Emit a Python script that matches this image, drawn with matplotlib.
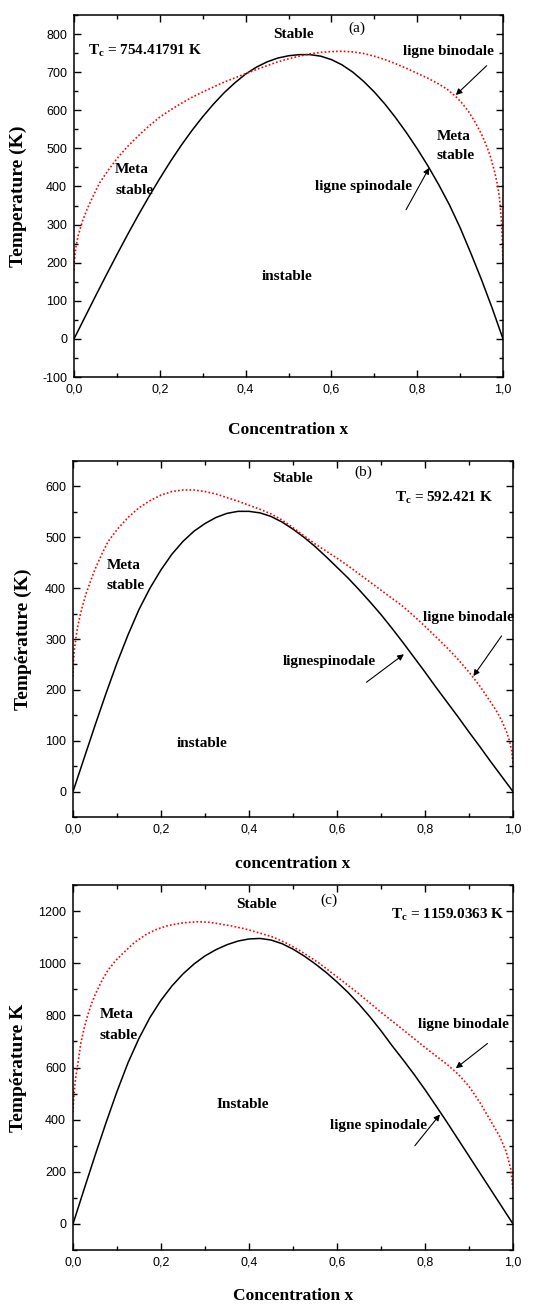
import matplotlib
matplotlib.use("Agg")
import matplotlib.pyplot as plt
from matplotlib.ticker import MultipleLocator, FuncFormatter

# ---- data (x = concentration, T in K) ----
# panel (a)
xa_spin = [0.0, 0.025, 0.05, 0.075, 0.1, 0.125, 0.15, 0.175, 0.2, 0.225, 0.25, 0.275, 0.3,
           0.325, 0.35, 0.375, 0.4, 0.425, 0.45, 0.475, 0.5, 0.525, 0.55, 0.575, 0.6, 0.625,
           0.65, 0.675, 0.7, 0.725, 0.75, 0.775, 0.8, 0.825, 0.85, 0.875, 0.9, 0.925, 0.95,
           0.975, 1.0]
Ta_spin = [0, 56, 112, 167, 221, 274, 325, 374, 421, 466, 508, 547, 583,
           616, 646, 672, 695, 713, 727, 737, 743, 746, 746, 742, 733, 719,
           700, 676, 648, 616, 580, 541, 499, 454, 405, 352, 292, 225, 155,
           80, 0]
xa_bin = [0.0, 0.0005, 0.002, 0.005, 0.01, 0.02, 0.03, 0.045, 0.06, 0.08, 0.1, 0.125,
          0.15, 0.175, 0.2, 0.225, 0.25, 0.275, 0.3, 0.325, 0.35, 0.375, 0.4, 0.425, 0.45,
          0.475, 0.5, 0.525, 0.55, 0.575, 0.6, 0.625, 0.65, 0.675, 0.7, 0.725, 0.75, 0.775,
          0.8, 0.825, 0.85, 0.87, 0.89, 0.905, 0.92, 0.935, 0.95, 0.96, 0.97, 0.98, 0.987,
          0.992, 0.996, 0.998, 0.9995, 1.0]
Ta_bin = [180, 200, 221, 245, 272, 310, 339, 376, 410, 443, 473, 505,
          533, 559, 582, 601, 618, 634, 648, 661, 674, 685, 696, 707, 717,
          727, 735, 742, 748, 752, 754, 755, 753, 749, 742, 733, 722, 710,
          697, 684, 669, 655, 636, 618, 596, 569, 537, 511, 481, 441, 405,
          368, 315, 272, 222, 180]

# panel (b)
xb_spin = [0.0, 0.025, 0.05, 0.075, 0.1, 0.125, 0.15, 0.175, 0.2, 0.225, 0.25, 0.275, 0.3,
           0.325, 0.35, 0.375, 0.4, 0.425, 0.45, 0.475, 0.5, 0.525, 0.55, 0.575, 0.6, 0.625,
           0.65, 0.675, 0.7, 0.725, 0.75, 0.775, 0.8, 0.825, 0.85, 0.875, 0.9, 0.925, 0.95,
           0.975, 1.0]
Tb_spin = [0, 65, 130, 193, 253, 308, 358, 400, 436, 467, 492, 512, 527,
           539, 547, 551, 551, 548, 541, 530, 516, 500, 482, 462, 441, 420,
           397, 373, 348, 321, 293, 264, 235, 205, 176, 147, 117, 88, 58,
           29, 0]
xb_bin = [0.0, 0.001, 0.003, 0.006, 0.01, 0.015, 0.02, 0.03, 0.04, 0.05, 0.065, 0.08, 0.1,
          0.125, 0.15, 0.175, 0.2, 0.225, 0.25, 0.275, 0.3, 0.325, 0.35, 0.375, 0.4, 0.425,
          0.45, 0.475, 0.5, 0.525, 0.55, 0.575, 0.6, 0.625, 0.65, 0.675, 0.7, 0.725, 0.75,
          0.775, 0.8, 0.825, 0.85, 0.875, 0.9, 0.925, 0.95, 0.965, 0.975, 0.985, 0.992,
          0.997, 1.0]
Tb_bin = [226, 256, 278, 299, 321, 342, 360, 390, 414, 437, 466, 492, 515,
          539, 558, 572, 583, 590, 593, 593, 590, 585, 578, 571, 563, 555,
          546, 534, 519, 503, 487, 473, 459, 444, 428, 412, 396, 380, 364,
          345, 325, 304, 283, 260, 235, 207, 175, 155, 138, 118, 100,
          80, 56]

# panel (c)
xc_spin = [0.0, 0.025, 0.05, 0.075, 0.1, 0.125, 0.15, 0.175, 0.2, 0.225, 0.25, 0.275, 0.3,
           0.325, 0.35, 0.375, 0.4, 0.425, 0.45, 0.475, 0.5, 0.525, 0.55, 0.575, 0.6, 0.625,
           0.65, 0.675, 0.7, 0.725, 0.75, 0.775, 0.8, 0.825, 0.85, 0.875, 0.9, 0.925, 0.95,
           0.975, 1.0]
Tc_spin = [0, 132, 262, 388, 508, 618, 712, 792, 858, 913, 959, 997, 1028,
           1052, 1071, 1085, 1093, 1095, 1089, 1075, 1054, 1028, 998, 965, 928, 888,
           843, 794, 741, 684, 630, 574, 515, 453, 390, 325, 260, 195, 130,
           65, 0]
xc_bin = [0.0, 0.001, 0.003, 0.006, 0.011, 0.018, 0.025, 0.032, 0.041, 0.051, 0.065, 0.079,
          0.097, 0.116, 0.14, 0.166, 0.19, 0.217, 0.25, 0.282, 0.31, 0.332, 0.36, 0.39, 0.42,
          0.455, 0.485, 0.516, 0.557, 0.6, 0.65, 0.7, 0.75, 0.8, 0.85, 0.875, 0.9, 0.925,
          0.95, 0.97, 0.985, 0.995, 1.0]
Tc_bin = [428, 468, 512, 560, 614, 695, 748, 793, 840, 882, 931, 972,
          1010, 1042, 1080, 1110, 1130, 1145, 1155, 1159, 1157, 1151, 1143, 1132, 1118,
          1100, 1077, 1048, 1003, 948, 882, 812, 745, 677, 612, 575, 528, 465,
          393, 335, 275, 210, 132]

SERIF = "Liberation Serif"
SANS = "Liberation Sans"

plt.rcParams["font.family"] = SANS
plt.rcParams["axes.unicode_minus"] = False
plt.rcParams["mathtext.fontset"] = "custom"
plt.rcParams["mathtext.rm"] = "Liberation Serif:bold"
plt.rcParams["mathtext.it"] = "Liberation Serif:bold"
plt.rcParams["mathtext.bf"] = "Liberation Serif:bold"


def commaFmt(v, pos):
    return f"{v:.1f}".replace(".", ",")


def axisConfig(ax, ylim, ymajor, yminor, xlabel, ylabel, ylabx, xlaby):
    """Origin-like axis styling"""
    ax.set_xlim(0, 1)
    ax.set_ylim(*ylim)
    ax.xaxis.set_major_locator(MultipleLocator(0.2))
    ax.xaxis.set_minor_locator(MultipleLocator(0.1))
    ax.yaxis.set_major_locator(MultipleLocator(ymajor))
    ax.yaxis.set_minor_locator(MultipleLocator(yminor))
    ax.xaxis.set_major_formatter(FuncFormatter(commaFmt))
    ax.tick_params(which="both", direction="in", top=True, right=True, width=1.0)
    ax.tick_params(which="major", length=5, labelsize=9, pad=5)
    ax.tick_params(which="minor", length=3)
    for sp in ax.spines.values():
        sp.set_linewidth(1.1)
    ax.set_xlabel(xlabel, fontfamily=SERIF, fontweight="bold", fontsize=12.5)
    ax.set_ylabel(ylabel, fontfamily=SERIF, fontweight="bold", fontsize=14)
    ax.yaxis.set_label_coords(ylabx, 0.5)
    ax.xaxis.set_label_coords(0.5, xlaby)


def label(ax, x, y, s, ha="left", weight="bold", size=11):
    ax.text(x, y, s, ha=ha, va="center", fontfamily=SERIF, fontweight=weight, fontsize=size)


def arrow(ax, tip, start):
    ax.annotate("", xy=tip, xytext=start,
                arrowprops=dict(arrowstyle="-|>", color="k", lw=0.8, mutation_scale=9,
                                shrinkA=0, shrinkB=0))


def curves(ax, xs, ts, xb, tb):
    ax.plot(xs, ts, color="k", lw=1.1)
    ax.plot(xb, tb, color="red", lw=1.2, linestyle=(0, (1, 1.3)))


fig = plt.figure(figsize=(5.5, 13.04), dpi=100)
fig.set_facecolor("w")

# ---- (a) ----
axA = fig.add_axes([74 / 550, 1 - 377 / 1304, 429 / 550, 362 / 1304])
curves(axA, xa_spin, Ta_spin, xa_bin, Ta_bin)
axisConfig(axA, (-100, 850), 100, 50, "Concentration x", "Temperature (K)", -0.11, -0.125)
label(axA, 0.659, 816, "(a)", ha="center", weight="normal")
label(axA, 0.512, 800, "Stable", ha="center")
label(axA, 0.033, 755, r"$\mathrm{T_c}$ = 754.41791 K")
label(axA, 0.767, 755, "ligne binodale")
arrow(axA, (0.890, 640), (0.962, 717))
label(axA, 0.845, 532, "Meta")
label(axA, 0.845, 482, "stable")
label(axA, 0.562, 401, "ligne spinodale")
arrow(axA, (0.828, 449), (0.774, 339))
label(axA, 0.096, 445, "Meta")
label(axA, 0.096, 390, "stable")
label(axA, 0.496, 164, "instable", ha="center")

# ---- (b) ----
axB = fig.add_axes([73 / 550, 1 - 817 / 1304, 440 / 550, 356 / 1304])
curves(axB, xb_spin, Tb_spin, xb_bin, Tb_bin)
axisConfig(axB, (-50, 650), 100, 50, "concentration x", "Température (K)", -0.093, -0.11)
label(axB, 0.659, 627, "(b)", ha="center", weight="normal")
label(axB, 0.499, 615, "Stable", ha="center")
label(axB, 0.732, 578, r"$\mathrm{T_c}$ = 592.421 K")
label(axB, 0.077, 445, "Meta")
label(axB, 0.077, 406, "stable")
label(axB, 0.795, 342, "ligne binodale")
arrow(axB, (0.91, 227), (0.974, 306))
label(axB, 0.477, 256, "lignespinodale")
arrow(axB, (0.752, 270), (0.667, 215))
label(axB, 0.294, 94, "instable", ha="center")

# ---- (c) ----
axC = fig.add_axes([73 / 550, 1 - 1250 / 1304, 440 / 550, 365 / 1304])
curves(axC, xc_spin, Tc_spin, xc_bin, Tc_bin)
axisConfig(axC, (-100, 1300), 200, 100, "Concentration x", "Température K", -0.105, -0.105)
label(axC, 0.582, 1241, "(c)", ha="center", weight="normal")
label(axC, 0.417, 1226, "Stable", ha="center")
label(axC, 0.722, 1184, r"$\mathrm{T_c}$ = 1159.0363 K")
label(axC, 0.061, 803, "Meta")
label(axC, 0.061, 724, "stable")
label(axC, 0.785, 766, "ligne binodale")
arrow(axC, (0.87, 597), (0.942, 692))
label(axC, 0.386, 459, "Instable", ha="center")
label(axC, 0.584, 379, "ligne spinodale")
arrow(axC, (0.834, 420), (0.777, 300))

fig.savefig("out.png", dpi=100, facecolor="w")
